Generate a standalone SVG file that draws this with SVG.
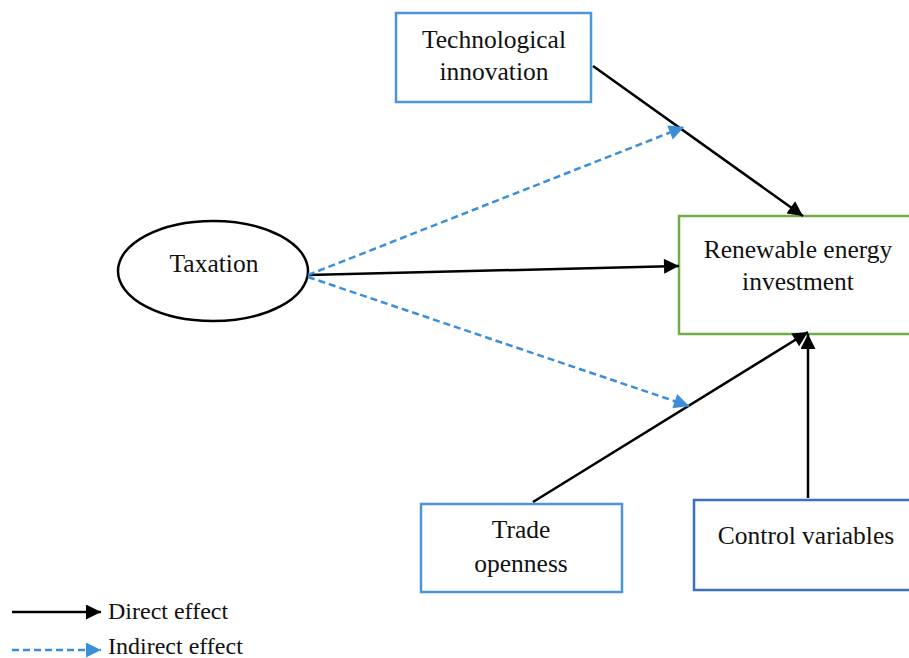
<svg xmlns="http://www.w3.org/2000/svg" width="909" height="658" viewBox="0 0 909 658">
<style>
text{font-family:"Liberation Serif","Times New Roman",serif;font-size:25.5px;fill:#111;text-anchor:middle}
.leg{font-size:24px;text-anchor:start}
.solid{stroke:#000;stroke-width:2.5;fill:none}
.dash{stroke:#3b8fd8;stroke-width:2.5;fill:none;stroke-dasharray:7 4}
</style>
<defs>
<marker id="ab" viewBox="0 0 10 10" refX="10" refY="5" markerWidth="7" markerHeight="6" markerUnits="strokeWidth" orient="auto"><path d="M0,0L10,5L0,10z" fill="#000"/></marker>
<marker id="ad" viewBox="0 0 10 10" refX="10" refY="5" markerWidth="7" markerHeight="6" markerUnits="strokeWidth" orient="auto"><path d="M0,0L10,5L0,10z" fill="#3b8fd8"/></marker>
</defs>
<rect width="909" height="658" fill="#fff"/>
<g id="tech"><rect x="396" y="13" width="195" height="89" fill="#fff" stroke="#4a96d8" stroke-width="2.5"/><text x="494" y="48">Technological</text><text x="494" y="80">innovation</text></g>
<g id="rei"><rect x="679" y="216" width="240" height="118" fill="#fff" stroke="#70ad47" stroke-width="2.5"/><text x="798" y="258">Renewable energy</text><text x="798" y="290">investment</text></g>
<g id="tax"><ellipse cx="213" cy="271" rx="95" ry="50" fill="#fff" stroke="#000" stroke-width="2.5"/><text x="214" y="272">Taxation</text></g>
<g id="trade"><rect x="421" y="504" width="201" height="88" fill="#fff" stroke="#4a96d8" stroke-width="2.5"/><text x="521" y="538">Trade</text><text x="521" y="572">openness</text></g>
<g id="ctrl"><rect x="694" y="500" width="230" height="90" fill="#fff" stroke="#3a6fc4" stroke-width="2.5"/><text x="806" y="544">Control variables</text></g>
<g id="connectors">
<line class="solid" x1="593" y1="66" x2="803" y2="216" marker-end="url(#ab)"/>
<line class="solid" x1="308" y1="275" x2="679" y2="266" marker-end="url(#ab)"/>
<line class="solid" x1="533" y1="502" x2="808" y2="332" marker-end="url(#ab)"/>
<line class="solid" x1="808" y1="498" x2="808" y2="334" marker-end="url(#ab)"/>
<line class="dash" x1="308" y1="275" x2="684" y2="127" marker-end="url(#ad)"/>
<line class="dash" x1="308" y1="277" x2="689" y2="406" marker-end="url(#ad)"/>
</g>
<g id="legend">
<line class="solid" x1="12" y1="612" x2="101" y2="612" marker-end="url(#ab)"/>
<text class="leg" x="108" y="619">Direct effect</text>
<line class="dash" x1="12" y1="650" x2="101" y2="650" marker-end="url(#ad)"/>
<text class="leg" x="108" y="654">Indirect effect</text>
</g>
</svg>
